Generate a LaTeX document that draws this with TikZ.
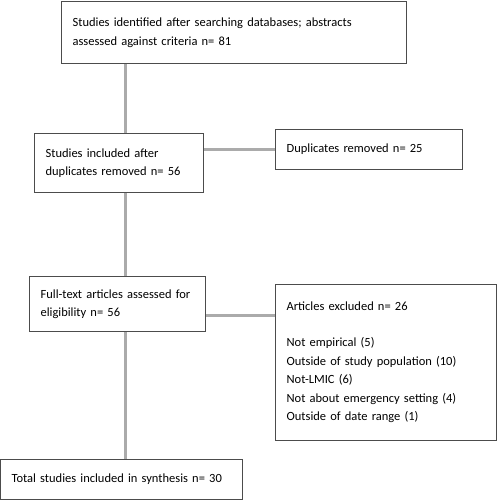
\documentclass[tikz,border=0pt]{standalone}
\usepackage{fontspec}
\setmainfont{Carlito}

\begin{document}
\begin{tikzpicture}[x=1pt,y=-1pt,
  box/.style={draw=black!70,line width=1.2pt,rectangle,anchor=north west,
    align=left,inner xsep=11pt,inner ysep=0pt,
    font=\fontsize{12.5}{18.5}\selectfont},
  link/.style={draw=black!33,line width=3pt}]

  \useasboundingbox (0,0) rectangle (497,500);

  % connectors
  \coordinate (S) at (125,0);
  \coordinate (L) at (0,315);

  % boxes
  \node[box,text width=323pt,minimum height=62pt] (B1) at (61,1)
    {Studies identified after searching databases; abstracts\\assessed against criteria n= 81\\[4pt]};
  \node[box,text width=147pt,minimum height=59pt] (B2) at (34,133)
    {Studies included after\\duplicates removed n= 56};
  \node[box,text width=165pt,minimum height=40pt] (B3) at (275,129)
    {Duplicates removed n= 25};
  \node[box,text width=154pt,minimum height=55pt] (B4) at (29,276)
    {Full-text articles assessed for\\eligibility n= 56};
  \node[box,text width=199pt,minimum height=156pt] (B5) at (275,284)
    {Articles excluded n= 26\\[17.5pt]
     Not empirical (5)\\
     Outside of study population (10)\\
     Not-LMIC (6)\\
     Not about emergency setting (4)\\
     Outside of date range (1)\\[2pt]};
  \node[box,text width=220pt,minimum height=40pt] (B6) at (0,459)
    {Total studies included in synthesis n= 30};

  % connectors
  \draw[link] (B1.south -| S) -- (B2.north -| S);
  \draw[link] (B2.south -| S) -- (B4.north -| S);
  \draw[link] (B4.south -| S) -- (B6.north -| S);
  \draw[link] (B2.east |- B3.west) -- (B3.west);
  \draw[link] (B4.east |- L) -- (B5.west |- L);

\end{tikzpicture}
\end{document}
